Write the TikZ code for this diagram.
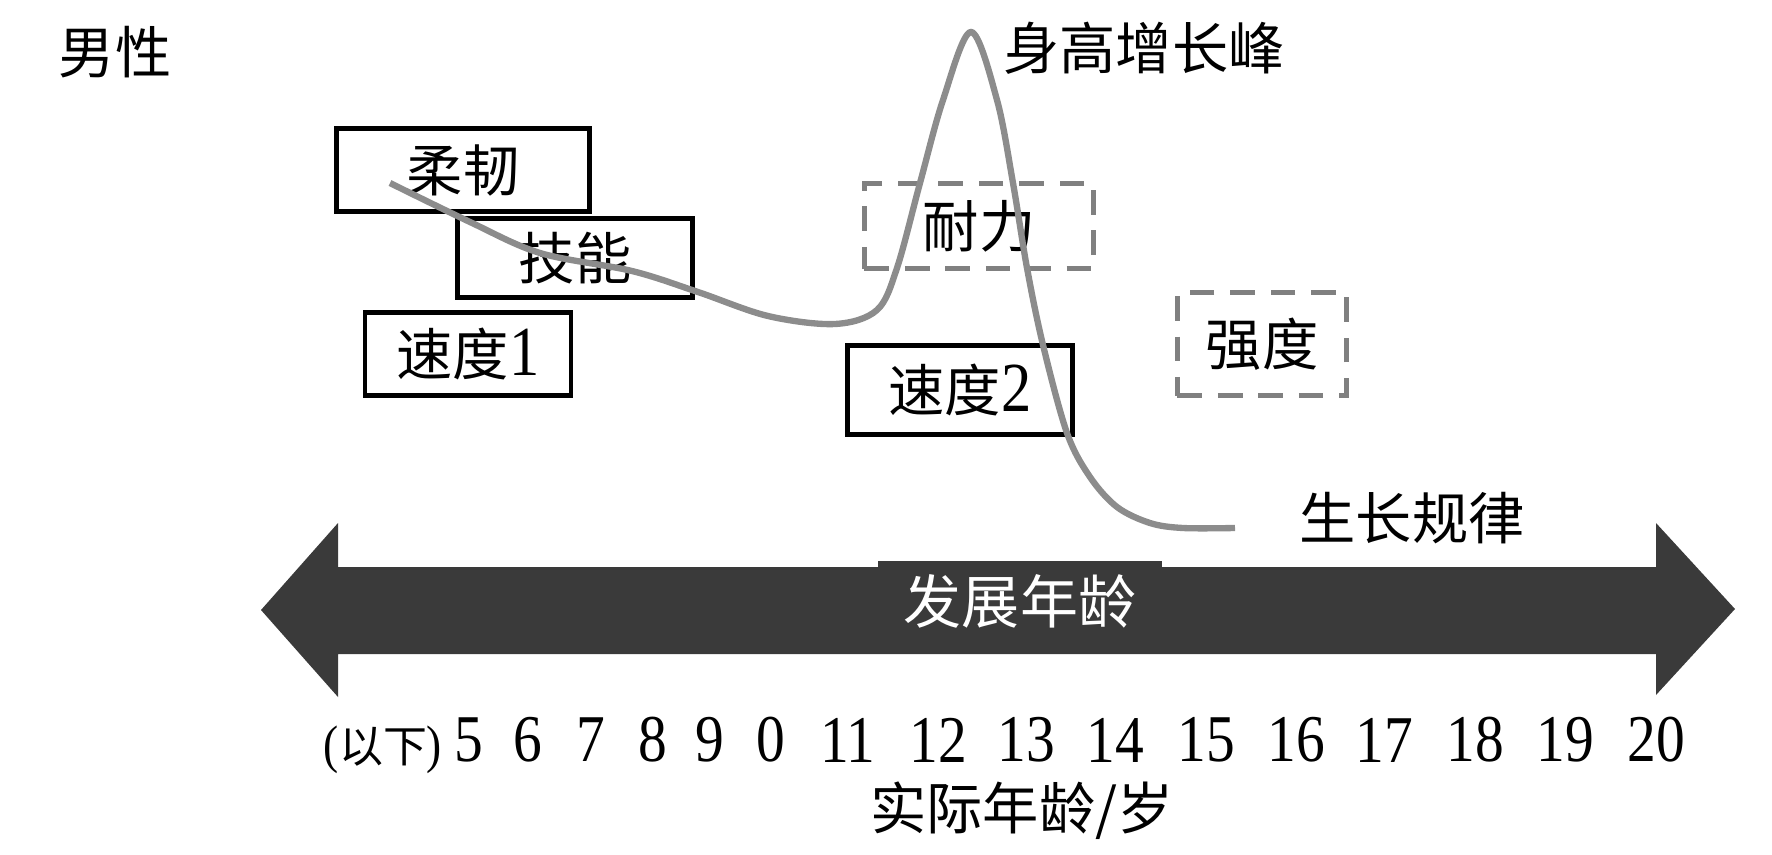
\documentclass[tikz,border=0pt]{standalone}
\usepackage{fontspec}
\setmainfont{Liberation Serif}
\newfontfamily\cjk{Noto Sans CJK SC}
\newfontfamily\numfont[FakeStretch=0.86]{Liberation Serif}
\usepackage{tikz}

\definecolor{curvegray}{HTML}{8C8C8C}
\definecolor{dashgray}{HTML}{808080}
\definecolor{axisgray}{HTML}{3A3A3A}

\begin{document}
\begin{tikzpicture}[x=0.01cm, y=-0.01cm,
  lbl/.style={inner sep=0pt, font=\fontsize{16}{18}\selectfont\cjk},
  sbox/.style={draw=black, line width=1.2pt, inner sep=0pt, font=\fontsize{16}{18}\selectfont\cjk},
  dbox/.style={draw=dashgray, line width=1.2pt, dash pattern=on 7pt off 4.5pt, inner sep=0pt, font=\fontsize{16}{18}\selectfont\cjk},
  age/.style={inner sep=0pt, font=\fontsize{19}{21}\selectfont\numfont}]
\useasboundingbox (0,0) rectangle (1772,854);

% labels
\node[lbl] (male) at (115,52) {男性};
\node[lbl] (peak) at (1144,48) {身高增长峰};
\node[lbl] (growth) at (1412,518) {生长规律};

% boxes
\node[sbox, minimum width=2.53cm, minimum height=0.83cm] (flex) at (463,170) {柔韧};
\node[sbox, minimum width=2.35cm, minimum height=0.79cm] (skill) at (575,258) {技能};
\node[sbox, minimum width=2.06cm, minimum height=0.83cm] (speedA) at (468,354) {速度{\fontsize{20}{22}\selectfont\numfont 1}};
\node[dbox, minimum width=2.29cm, minimum height=0.85cm] (endur) at (979,226) {耐力};
\node[dbox, minimum width=1.69cm, minimum height=1.03cm] (power) at (1262,344) {强度};
\node[sbox, minimum width=2.25cm, minimum height=0.89cm] (speedB) at (960,390) {速度{\fontsize{20}{22}\selectfont\numfont 2}};

% growth curve
\draw[curvegray, line width=1.8pt] plot[smooth, tension=0.55] coordinates {
  (390,183) (470,222) (540,253) (632,271) (698,292) (768,316) (835,324)
  (877,310) (897,268) (920,183) (943,100) (971,32) (997,100) (1013,183)
  (1027,268) (1043,345) (1067,433) (1090,477) (1117,507) (1150,523)
  (1183,528) (1235,528)};

% development age axis
\fill[axisgray] (261,610) -- (338,523) -- (338,567) -- (1656,567) -- (1656,523)
  -- (1735,609) -- (1656,695) -- (1656,654) -- (338,654) -- (338,697) -- cycle;
\node[fill=axisgray, minimum width=2.84cm, minimum height=0.8cm, inner sep=0pt,
  text=white, font=\fontsize{16.5}{18}\selectfont\cjk] (devage) at (1020,601) {发展年龄};

% real age
\node[inner sep=0pt, font=\fontsize{15}{17}\selectfont\numfont] (below) at (383,750)
  {({\fontsize{12.5}{14}\selectfont\cjk 以下})};
\foreach \x/\n in {469/5, 528/6, 591/7, 653/8, 710/9, 771/0, 848/11, 938/12,
  1026/13, 1115/14, 1206/15, 1296/16, 1384/17, 1475/18, 1565/19, 1656/20}
  \node[age] (age\n) at (\x,740) {\n};
\node[lbl] (realage) at (1022,811) {实际年龄/岁};
\end{tikzpicture}
\end{document}
